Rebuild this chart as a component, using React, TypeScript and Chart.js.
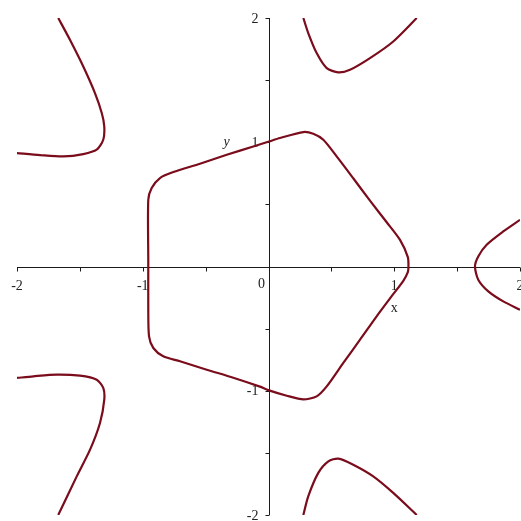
import React, { useEffect, useRef } from "react";
import { Chart, registerables } from "chart.js";

Chart.register(...registerables);

// Axis ranges and ticks
const xRange = [-2, 2];
const yRange = [-2, 2];
const xTickValues = [-2, -1.5, -1, -0.5, 0.5, 1, 1.5, 2];
const yTickValues = [-2, -1.5, -1, -0.5, 0.5, 1, 1.5, 2];
const xLabelValues = [-2, -1, 1, 2];
const xLabelTexts = ["-2", "-1", "1", "2"];
const yLabelValues = [-2, -1, 1, 2];
const yLabelTexts = ["-2", "-1", "1", "2"];
const originLabel = "0";
const xAxisTitle = "x";
const yAxisTitle = "y";

// Closed inner curve, starting mid left side
const innerX = [-0.956, -0.956, -0.95, -0.916, -0.837, -0.704, -0.491, -0.28, -0.068, -0.002, 0.145, 0.277, 0.383, 0.463, 0.595, 0.728, 0.86, 0.99, 1.072, 1.108, 1.113, 1.108, 1.046, 0.94, 0.807, 0.674, 0.542, 0.436, 0.356, 0.277, 0.091, 0.004, -0.121, -0.332, -0.545, -0.757, -0.863, -0.929, -0.956, -0.956];
const innerY = [0.055, -0.348, -0.562, -0.656, -0.723, -0.763, -0.831, -0.895, -0.967, -0.995, -1.04, -1.07, -1.045, -0.965, -0.776, -0.589, -0.401, -0.225, -0.115, -0.045, 0, 0.075, 0.214, 0.356, 0.53, 0.71, 0.886, 1.02, 1.068, 1.082, 1.034, 1.006, 0.966, 0.899, 0.827, 0.76, 0.712, 0.632, 0.537, 0.055];

// Outer branches
const topLeftX = [-1.672, -1.579, -1.473, -1.38, -1.326, -1.306, -1.314, -1.366, -1.473, -1.632, -1.817, -2.0];
const topLeftY = [2.0, 1.825, 1.61, 1.396, 1.235, 1.127, 1.02, 0.94, 0.905, 0.886, 0.897, 0.913];

const bottomLeftX = [-2.0, -1.87, -1.684, -1.499, -1.366, -1.314, -1.306, -1.34, -1.419, -1.525, -1.672];
const bottomLeftY = [-0.897, -0.884, -0.87, -0.879, -0.911, -0.977, -1.072, -1.259, -1.474, -1.689, -2.0];

const topX = [0.277, 0.316, 0.383, 0.463, 0.555, 0.648, 0.807, 0.992, 1.179];
const topY = [2.0, 1.879, 1.718, 1.597, 1.562, 1.583, 1.677, 1.811, 2.0];

const bottomX = [0.277, 0.316, 0.396, 0.476, 0.555, 0.674, 0.833, 0.992, 1.179];
const bottomY = [-2.0, -1.85, -1.661, -1.568, -1.546, -1.595, -1.689, -1.822, -2.0];

const rightX = [2.0, 1.867, 1.735, 1.668, 1.642, 1.668, 1.748, 1.867, 2.0];
const rightY = [0.376, 0.282, 0.175, 0.081, 0, -0.106, -0.2, -0.281, -0.348];

const curveColor = "#7a0c1c";
const axisColor = "#1a1a1a";
const labelFont = '14px "Liberation Serif", "Times New Roman", serif';
const italicFont = 'italic 14px "Liberation Serif", "Times New Roman", serif';

function zip(xs: number[], ys: number[]) {
  return xs.map((x, i) => ({ x, y: ys[i] }));
}

const axesPlugin = {
  id: "mapleAxes",
  beforeDatasetsDraw(chart: any) {
    const { ctx, scales } = chart;
    const sx = scales.x;
    const sy = scales.y;
    const x0 = Math.round(sx.getPixelForValue(0)) + 0.5;
    const y0 = Math.round(sy.getPixelForValue(0)) + 0.5;
    ctx.save();
    ctx.strokeStyle = axisColor;
    ctx.lineWidth = 1;
    ctx.beginPath();
    ctx.moveTo(sx.getPixelForValue(xRange[0]), y0);
    ctx.lineTo(sx.getPixelForValue(xRange[1]), y0);
    ctx.moveTo(x0, sy.getPixelForValue(yRange[1]));
    ctx.lineTo(x0, sy.getPixelForValue(yRange[0]));
    xTickValues.forEach((v) => {
      const px = Math.round(sx.getPixelForValue(v)) + 0.5;
      ctx.moveTo(px, y0);
      ctx.lineTo(px, y0 + 4);
    });
    yTickValues.forEach((v) => {
      const py = Math.round(sy.getPixelForValue(v)) + 0.5;
      ctx.moveTo(x0 - 4, py);
      ctx.lineTo(x0, py);
    });
    ctx.stroke();

    ctx.fillStyle = "#222";
    ctx.font = labelFont;
    ctx.textAlign = "center";
    ctx.textBaseline = "alphabetic";
    xLabelValues.forEach((v, i) => {
      ctx.fillText(xLabelTexts[i], sx.getPixelForValue(v), y0 + 22);
    });
    ctx.fillText(originLabel, x0 - 8, y0 + 20);
    ctx.textAlign = "right";
    ctx.textBaseline = "middle";
    yLabelValues.forEach((v, i) => {
      ctx.fillText(yLabelTexts[i], x0 - 11, sy.getPixelForValue(v) + 1);
    });
    ctx.textAlign = "center";
    ctx.textBaseline = "alphabetic";
    ctx.fillText(xAxisTitle, sx.getPixelForValue(1), y0 + 44);
    ctx.font = italicFont;
    ctx.fillText(yAxisTitle, x0 - 43, sy.getPixelForValue(1) + 4);
    ctx.restore();
  },
};

export default function App() {
  const ref = useRef<HTMLCanvasElement | null>(null);
  useEffect(() => {
    if (!ref.current) return;
    const mk = (xs: number[], ys: number[]) => ({
      data: zip(xs, ys),
      showLine: true,
      pointRadius: 0,
      borderColor: curveColor,
      borderWidth: 2.2,
      fill: false,
      tension: 0.25,
    });
    const chart = new Chart(ref.current, {
      type: "scatter",
      data: {
        datasets: [
          mk(innerX, innerY),
          mk(topLeftX, topLeftY),
          mk(bottomLeftX, bottomLeftY),
          mk(topX, topY),
          mk(bottomX, bottomY),
          mk(rightX, rightY),
        ],
      },
      options: {
        responsive: false,
        animation: false,
        events: [],
        layout: { padding: { left: 17, right: 1, top: 18, bottom: 6 } },
        plugins: { legend: { display: false }, tooltip: { enabled: false } },
        scales: {
          x: { type: "linear", min: xRange[0], max: xRange[1], display: false },
          y: { type: "linear", min: yRange[0], max: yRange[1], display: false },
        },
      },
      plugins: [axesPlugin],
    } as any);
    return () => chart.destroy();
  }, []);
  return (
    <div style={{ position: "fixed", left: 0, top: 0, width: 521, height: 521, background: "#fff" }}>
      <canvas ref={ref} width={521} height={521} style={{ display: "block" }} />
    </div>
  );
}
